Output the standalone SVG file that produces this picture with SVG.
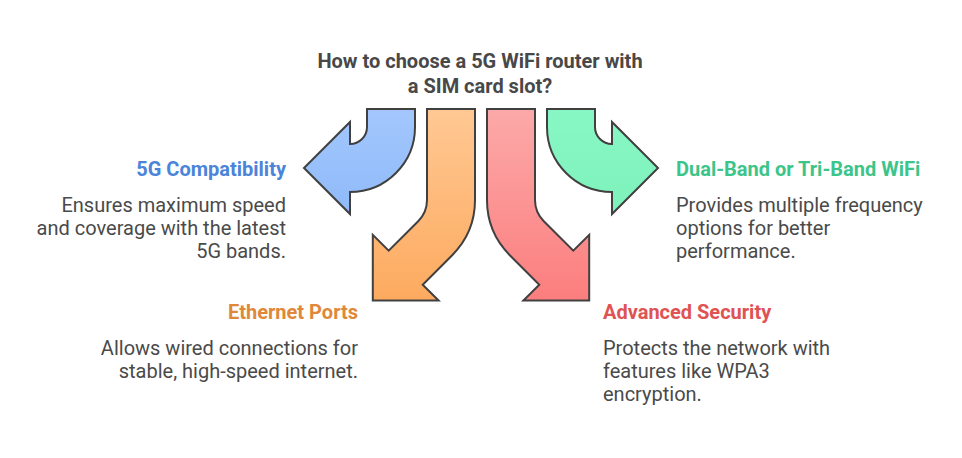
<svg xmlns="http://www.w3.org/2000/svg" width="962" height="458" viewBox="0 0 962 458">
<style>
.arrow{stroke:#404040;stroke-width:2;stroke-linejoin:miter}
.title{font-family:Roboto,"Liberation Sans",sans-serif;font-weight:bold;font-size:20px;fill:#484848}
.head{font-family:Roboto,"Liberation Sans",sans-serif;font-weight:bold;font-size:20px}
.desc{font-family:Roboto,"Liberation Sans",sans-serif;font-size:20px;fill:#4a4a4a}
</style>
<defs>
<linearGradient id="gBlue" x1="0" y1="0" x2="0" y2="1"><stop offset="0" stop-color="#a3c7fd"/><stop offset="1" stop-color="#8fbaf9"/></linearGradient>
<linearGradient id="gOrange" x1="0" y1="0" x2="0" y2="1"><stop offset="0" stop-color="#ffc893"/><stop offset="1" stop-color="#fdaa5f"/></linearGradient>
<linearGradient id="gRed" x1="0" y1="0" x2="0" y2="1"><stop offset="0" stop-color="#fca9a9"/><stop offset="1" stop-color="#fc7e7e"/></linearGradient>
<linearGradient id="gGreen" x1="0" y1="0" x2="0" y2="1"><stop offset="0" stop-color="#88f7c5"/><stop offset="1" stop-color="#7ef2bb"/></linearGradient>
<path id="bentArrow" d="M 415 109 L 415 127 A 65 65 0 0 1 350 192 L 350 214 L 304 168 L 350 122 L 350 144 A 17 17 0 0 0 367 127 L 367 109 Z"/>
<path id="downArrow" d="M 427 109 L 427 200 A 30 30 0 0 1 418.2 221.2 L 388.7 250.7 L 372.8 234.8 L 372.8 300.6 L 438.6 300.6 L 422.7 284.7 L 452.2 255.2 A 78 78 0 0 0 475 200 L 475 109 Z"/>
</defs>
<g id="title">
<text class="title" x="480" y="68" text-anchor="middle">How to choose a 5G WiFi router with</text>
<text class="title" x="480" y="93" text-anchor="middle">a SIM card slot?</text>
</g>
<g id="connectors">
<use href="#bentArrow" class="arrow" fill="url(#gBlue)"/>
<use href="#downArrow" class="arrow" fill="url(#gOrange)"/>
<use href="#downArrow" class="arrow" fill="url(#gRed)" transform="translate(962,0) scale(-1,1)"/>
<use href="#bentArrow" class="arrow" fill="url(#gGreen)" transform="translate(962,0) scale(-1,1)"/>
</g>
<g id="node-5g">
<text class="head" x="286" y="176" text-anchor="end" fill="#4b84d9">5G Compatibility</text>
<text class="desc" x="286" y="212" text-anchor="end">Ensures maximum speed</text>
<text class="desc" x="286" y="235" text-anchor="end">and coverage with the latest</text>
<text class="desc" x="286" y="258" text-anchor="end">5G bands.</text>
</g>
<g id="node-wifi">
<text class="head" x="676" y="176" fill="#3cc58a">Dual-Band or Tri-Band WiFi</text>
<text class="desc" x="676" y="212">Provides multiple frequency</text>
<text class="desc" x="676" y="235">options for better</text>
<text class="desc" x="676" y="258">performance.</text>
</g>
<g id="node-ethernet">
<text class="head" x="358" y="319" text-anchor="end" fill="#e0883a">Ethernet Ports</text>
<text class="desc" x="358" y="355" text-anchor="end">Allows wired connections for</text>
<text class="desc" x="358" y="378" text-anchor="end">stable, high-speed internet.</text>
</g>
<g id="node-security">
<text class="head" x="603" y="319" fill="#e05353">Advanced Security</text>
<text class="desc" x="603" y="355">Protects the network with</text>
<text class="desc" x="603" y="378">features like WPA3</text>
<text class="desc" x="603" y="401">encryption.</text>
</g>
</svg>
